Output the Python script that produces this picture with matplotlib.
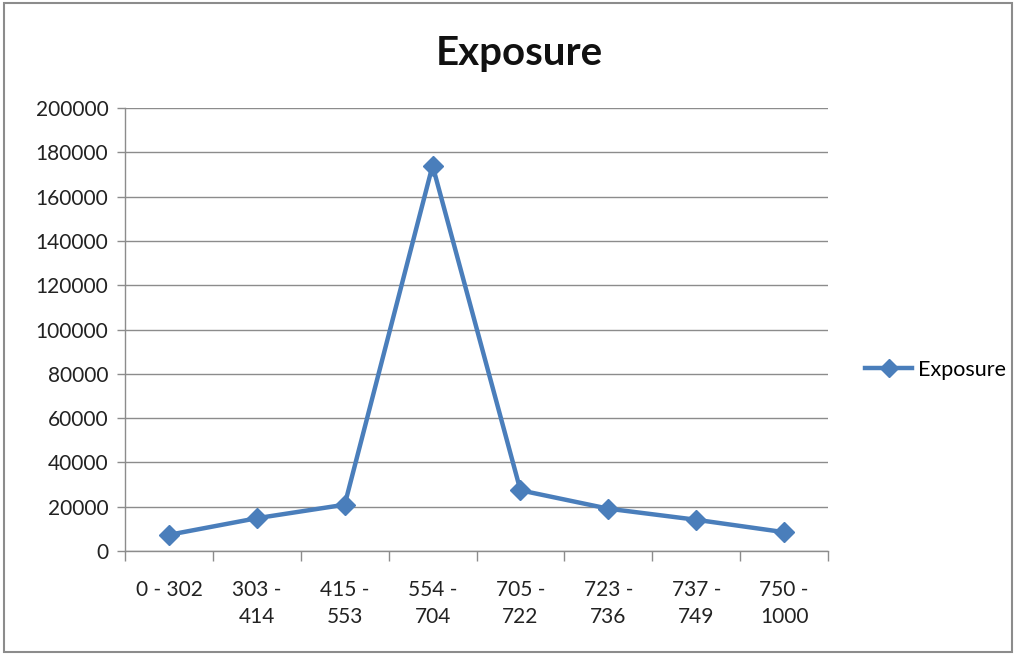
import matplotlib
matplotlib.use("Agg")
import matplotlib.pyplot as plt
from matplotlib.lines import Line2D
from matplotlib.patches import Rectangle

categories = ["0 - 302", "303 -\n414", "415 -\n553", "554 -\n704", "705 -\n722",
              "723 -\n736", "737 -\n749", "750 -\n1000"]
exposure = [7300, 14800, 20900, 174000, 27400, 19100, 14100, 8500]
yticks = [0, 20000, 40000, 60000, 80000, 100000, 120000, 140000, 160000, 180000, 200000]

plt.rcParams['font.family'] = ['Lato', 'DejaVu Sans']
W, H = 1016, 655
fig = plt.figure(figsize=(W / 100, H / 100), dpi=100)
fig.patches.append(Rectangle((4 / W, 3 / H), (W - 8) / W, (H - 6) / H, transform=fig.transFigure,
                             fill=False, edgecolor="#8c8c8c", linewidth=1.5))
ax = fig.add_axes([125 / W, 1 - 551 / H, (828 - 125) / W, (551 - 108) / H])

color = "#4A7EBB"
x = list(range(len(categories)))
ax.plot(x, exposure, color=color, linewidth=3.2, marker="D", markersize=10.5,
        markeredgecolor=color, markerfacecolor=color, label="Exposure", clip_on=False)

ax.set_xlim(-0.5, len(categories) - 0.5)
ax.set_ylim(0, 200000)
ax.set_yticks(yticks)
ax.set_yticklabels([str(v) for v in yticks])
ax.yaxis.grid(True, color="#8c8c8c", linewidth=1)
ax.set_axisbelow(True)

ax.set_xticks([i for i in x])
ax.set_xticklabels(categories, linespacing=1.45)
ax.set_xticks([i - 0.5 for i in range(len(categories) + 1)], minor=True)
ax.tick_params(axis="x", which="major", length=0, pad=21, labelsize=15, colors="#222222")
ax.tick_params(axis="x", which="minor", length=7, color="#8c8c8c", width=1)
ax.tick_params(axis="y", which="major", length=6, color="#8c8c8c", width=1, labelsize=15,
               pad=6, colors="#222222")
ax.tick_params(axis="y", colors="#8c8c8c", labelcolor="#222222")

for s in ["top", "right"]:
    ax.spines[s].set_visible(False)
for s in ["left", "bottom"]:
    ax.spines[s].set_color("#8c8c8c")
    ax.spines[s].set_linewidth(1)

fig.text(519 / W, 1 - 53 / H, "Exposure", ha="center", va="center", fontsize=29, fontweight="bold",
         color="#111111")

handle = Line2D([], [], color=color, linewidth=3.2, marker="D", markersize=9)
fig.legend(handles=[handle], labels=["Exposure"], loc="center left",
           bbox_to_anchor=(865 / W, 1 - 370 / H), frameon=False, fontsize=15.5,
           handlelength=2.2, handletextpad=0.25, borderpad=0, borderaxespad=0)

fig.savefig("out.png", dpi=100)
